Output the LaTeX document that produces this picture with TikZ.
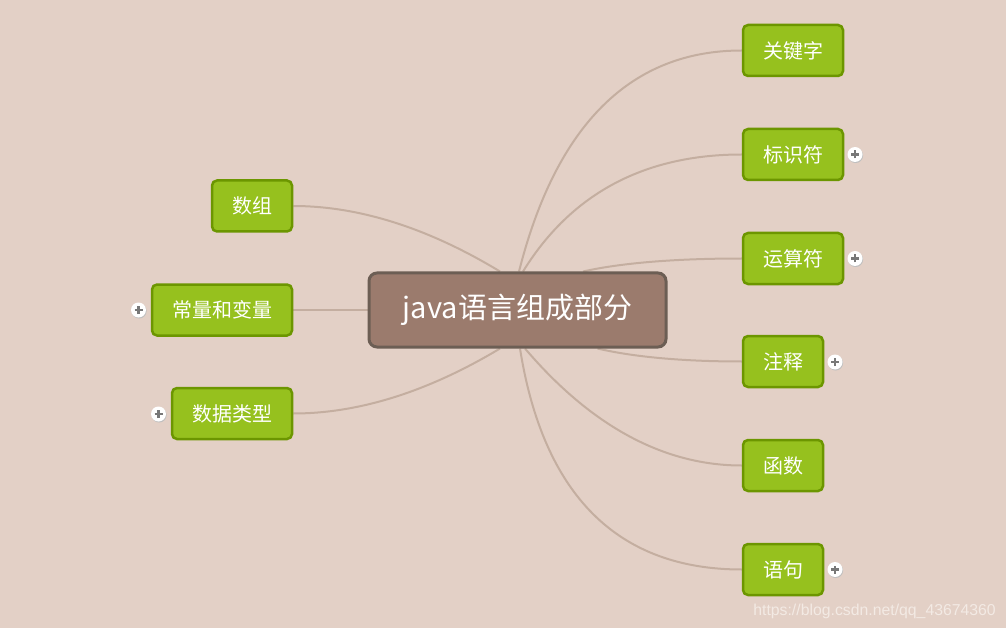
\documentclass[tikz,border=0pt]{standalone}
\usepackage{fontspec}
\setmainfont{Noto Sans CJK SC}
\newfontfamily\wmfont{Liberation Sans}
\usetikzlibrary{backgrounds}
\definecolor{bgc}{RGB}{227,208,198}
\definecolor{cfill}{RGB}{155,123,109}
\definecolor{cborder}{RGB}{108,94,84}
\definecolor{lfill}{RGB}{150,193,30}
\definecolor{lborder}{RGB}{108,150,0}
\definecolor{conn}{RGB}{196,174,160}
\definecolor{plusc}{RGB}{120,120,120}
\definecolor{wmc}{RGB}{243,234,228}
\tikzset{
  centerbox/.style={draw=cborder, fill=cfill, line width=3pt, rounded corners=8pt,
    minimum width=297pt, minimum height=74pt, text=white, inner sep=0pt,
    font=\fontsize{29}{34}\selectfont},
  leafbox/.style={draw=lborder, fill=lfill, line width=2.5pt, rounded corners=5pt,
    minimum height=51pt, text=white, inner sep=0pt,
    font=\fontsize{20}{24}\selectfont},
  link/.style={draw=conn, line width=2pt},
  plusicon/.style={circle, fill=white, minimum size=15pt, inner sep=0pt,
    path picture={\draw[plusc, line width=2.2pt]
      ([xshift=-4pt]path picture bounding box.center) -- ([xshift=4pt]path picture bounding box.center)
      ([yshift=-4pt]path picture bounding box.center) -- ([yshift=4pt]path picture bounding box.center);}},
  plusshadow/.style={circle, fill=black!25, minimum size=15pt, inner sep=0pt}
}
\begin{document}
\begin{tikzpicture}[x=1pt,y=-1pt]
\useasboundingbox (0,0) rectangle (1006,628);

\node[centerbox] (c) at (517.5,310) {java语言组成部分};

\node[leafbox, minimum width=100pt] (k1) at (793,50.5) {关键字};
\node[leafbox, minimum width=100pt] (k2) at (793,154.5) {标识符};
\node[leafbox, minimum width=100pt] (k3) at (793,258.5) {运算符};
\node[leafbox, minimum width=80pt] (k4) at (783,361.5) {注释};
\node[leafbox, minimum width=80pt] (k5) at (783,465.5) {函数};
\node[leafbox, minimum width=80pt] (k6) at (783,569.5) {语句};
\node[leafbox, minimum width=80pt] (l1) at (252,206) {数组};
\node[leafbox, minimum width=140pt] (l2) at (222,310) {常量和变量};
\node[leafbox, minimum width=120pt] (l3) at (232,413.5) {数据类型};

\foreach \n/\x/\y in {p2/855/154.5, p3/855/258.5, p4/835/362, p6/835/569.5, p7/138.5/310, p8/158.5/414}{
  \node[plusshadow] at (\x+0.6,\y+1) {};
  \node[plusicon] (\n) at (\x,\y) {};
}

\node[anchor=base east, text=wmc, font=\wmfont\fontsize{15.8}{19}\selectfont, inner sep=0pt] (wm) at (996,615) {https://blog.csdn.net/qq\_43674360};

\begin{scope}[on background layer]
\fill[bgc] (0,0) rectangle (1006,628);
\draw[link] ([xshift=1.5pt]c.north) .. controls (556.3,124.3) and (631,50.5) .. (k1.west);
\draw[link] ([xshift=5.5pt]c.north) .. controls (571,193.7) and (644.3,154.5) .. (k2.west);
\draw[link] ([xshift=65.5pt]c.north) .. controls (621,263) and (674.3,258.5) .. (k3.west);
\draw[link] ([xshift=80pt]c.south) .. controls (632.5,356.7) and (681,361.5) .. (k4.west);
\draw[link] ([xshift=7.5pt]c.south) .. controls (591,426) and (663.7,465.5) .. (k5.west);
\draw[link] ([xshift=2.5pt]c.south) .. controls (543.3,495.3) and (617.7,569.5) .. (k6.west);
\draw[link] ([xshift=-17.5pt]c.north) .. controls (428.7,228.3) and (359.3,206) .. (l1.east);
\draw[link] (c.west) -- (l2.east);
\draw[link] ([xshift=-17.5pt]c.south) .. controls (428.7,391.3) and (359.3,413.5) .. (l3.east);
\end{scope}
\end{tikzpicture}
\end{document}
